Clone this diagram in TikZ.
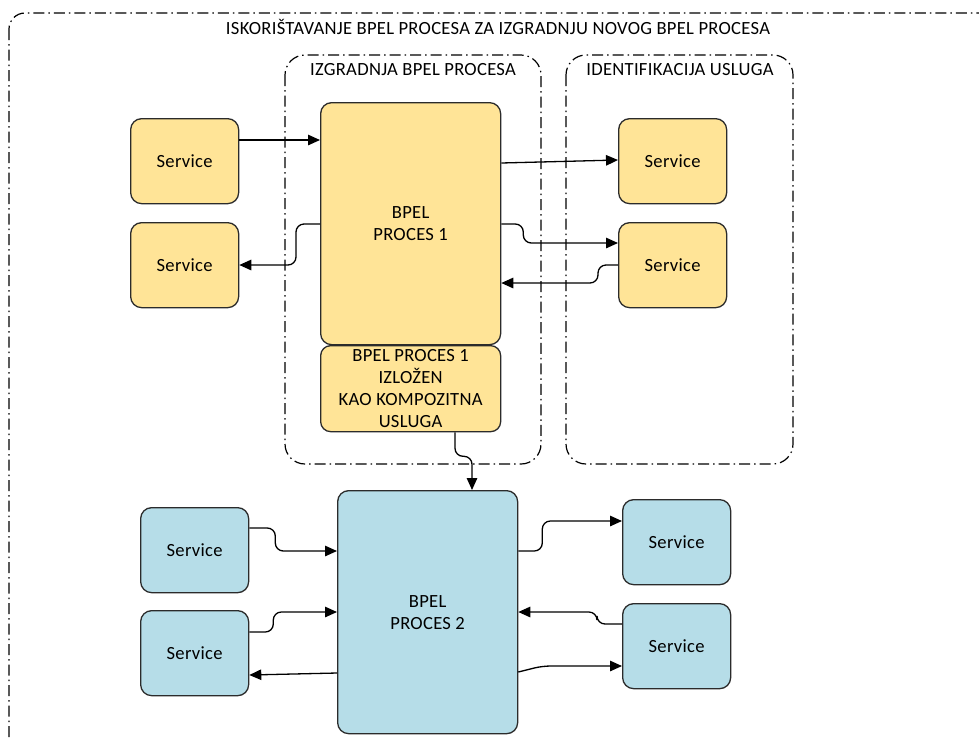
\documentclass[tikz,border=0pt]{standalone}
\usepackage{fontspec}
\setmainfont{Carlito}[LetterSpace=1.5]
\usetikzlibrary{arrows.meta,calc}
\definecolor{ylw}{HTML}{FFE497}
\definecolor{blu}{HTML}{B6DDE8}
\definecolor{edge}{HTML}{2B2B2B}
\begin{document}
\begin{tikzpicture}[x=1pt,y=-1pt,
  every node/.style={font=\fontsize{18.6}{22}\selectfont},
  box/.style={draw=edge, line width=1.3pt, rounded corners=11pt, anchor=north west, inner sep=0pt, align=center},
  svcy/.style={box, fill=ylw, minimum width=108pt, minimum height=85pt},
  svcb/.style={box, fill=blu, minimum width=108pt, minimum height=85pt},
  grp/.style={draw=black, line width=1.2pt, rounded corners=20pt, dash pattern=on 11pt off 4pt on 1.5pt off 4pt},
  arr/.style={draw=black, line width=1.3pt, rounded corners=8pt, -{Triangle[length=12pt,width=10.5pt]}},
  lbl/.style={inner sep=0pt}]
\clip (0,0) rectangle (979,740);
\fill[white] (0,0) rectangle (979,740);
% frames
\draw[grp, rounded corners=16pt] (9,13) rectangle (1010,770);
\draw[grp] (285,55) rectangle (541,464);
\draw[grp] (566,55) rectangle (793,464);
\node[lbl] (title) at (498,27) {ISKORIŠTAVANJE BPEL PROCESA ZA IZGRADNJU NOVOG BPEL PROCESA};
\node[lbl] (g1lbl) at (413,70) {IZGRADNJA BPEL PROCESA};
\node[lbl] (g2lbl) at (680,70) {IDENTIFIKACIJA USLUGA};
% yellow
\node[box, fill=ylw, minimum width=180pt, minimum height=242pt] (bp1) at (320,102) {BPEL\\PROCES 1};
\node[box, fill=ylw, minimum width=180pt, minimum height=86pt, rounded corners=10pt] (comp) at (320,345) {BPEL PROCES 1\\IZLOŽEN\\KAO KOMPOZITNA\\USLUGA};
\node[svcy] (ls1) at (130,118) {Service};
\node[svcy] (ls2) at (130,222) {Service};
\node[svcy] (rs1) at (618,118) {Service};
\node[svcy] (rs2) at (618,222) {Service};
% blue
\node[box, fill=blu, minimum width=180pt, minimum height=243pt] (bp2) at (337,490) {BPEL\\PROCES 2};
\node[svcb] (bl1) at (140,507) {Service};
\node[svcb] (bl2) at (140,610) {Service};
\node[svcb] (br1) at (622,499) {Service};
\node[svcb] (br2) at (622,603) {Service};
% yellow arrows
\draw[arr] ($(ls1.north east)+(0,22)$) -- ($(bp1.north west)+(0,38)$);
\draw[arr] ($(bp1.north east)+(0,61)$) -- ($(rs1.north west)+(0,42)$);
\draw[arr] ($(bp1.north west)+(0,122)$) -- ++(-24,0) |- ($(ls2.north east)+(0,43)$);
\draw[arr] ($(bp1.north east)+(0,122)$) -- ++(22,0) |- ($(rs2.north west)+(0,21)$);
\draw[arr] ($(rs2.north west)+(0,43)$) -- ++(-20,0) |- ($(bp1.north east)+(0,181)$);
\draw[arr] ($(comp.south west)+(135,0)$) -- ++(0,24) -| ($(bp2.north west)+(135,0)$);
% blue arrows
\draw[arr] ($(bl1.north east)+(0,21)$) -- ++(26,0) |- ($(bp2.north west)+(0,61)$);
\draw[arr] ($(bl2.north east)+(0,22)$) -- ++(24,0) |- ($(bp2.north west)+(0,122)$);
\draw[arr] ($(bp2.north west)+(0,183)$) -- ($(bl2.north east)+(0,65)$);
\draw[arr] ($(bp2.north east)+(0,61)$) -- ++(24,0) |- ($(br1.north west)+(0,22)$);
\draw[arr] ($(br2.north west)+(0,21)$) -- ++(-25,0) |- ($(bp2.north east)+(0,122)$);
\draw[arr] ($(bp2.north east)+(0,182)$) -- ++(24,-6) -- ($(br2.north west)+(0,63)$);
\end{tikzpicture}
\end{document}
